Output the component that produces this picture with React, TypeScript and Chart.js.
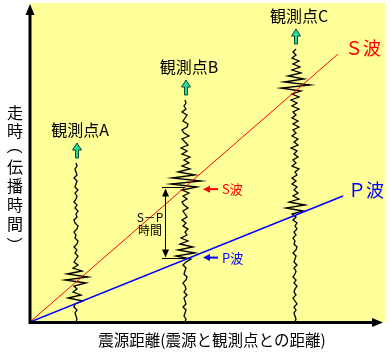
import { useEffect, useRef } from 'react';
import { Chart, registerables } from 'chart.js';

Chart.register(...registerables);

// Station (observation point) names and epicentral distances (data units)
const stationLabels = ['観測点A', '観測点B', '観測点C'];
const stationDist = [46, 155, 265];

// Travel-time lines
const sWaveDist = [0, 308];
const sWaveTime = [0, 268];
const pWaveDist = [0, 313];
const pWaveTime = [0, 126];

// Seismogram amplitudes, sampled every traceStep time units from the origin time upwards
const traceStep = 3;
const traceA = [
  0, 1, 0, -1, 1, -2, -1, 7, -8, 5, -3, 1, -2, 10, -11, 12, -9, 6, -3, 2,
  -2, 0, 2, -1, 1, -2, 1, 2, -1, 0, -2, 1, 2, -1, -2, 1, 0, 2, -1, 1,
  -2, 0, 1, -1, 2, -1, 0, 1, -2, 1, 0, -1, 1, 0,
];
const traceB = [
  0, 1, -1, 0, 1, -2, 1, 0, -1, 2, -1, 1, 0, -2, 1, 2, -1, 0, 1, -2,
  1, 6, -9, 10, -7, 8, -5, 3, -4, 2, 0, 3, -2, 1, -3, 2, 0, -2, 3, -1,
  -3, 2, -2, 4, -3, 12, -14, 16, -13, 10, -7, 5, -3, 4, -1, 5, -3, 2, -4, 3,
  0, -3, 4, -1, -3, 2, 3, -2, 0, 2, -3, 1, -1, 1, 0,
];
const traceC = [
  0, 1, 0, -1, 1, -1, 2, 0, -2, 1, -1, 0, 2, -1, 1, -2, 0, 1, -1, 2,
  -1, 0, 1, -2, 1, 2, -1, 0, -2, 1, -1, 2, 0, 2, -2, 1, -3, 8, -9, 10,
  -6, 4, -2, 3, -1, 2, -3, 1, -3, 2, 0, 4, -3, 1, -2, 3, -1, 2, -4, 3,
  -1, 3, -3, 1, -2, 4, -2, 3, -3, 1, -2, 4, -3, 2, -4, 4, -3, 6, -14, 15,
  -11, 9, -7, 6, -3, 5, -2, 4, -3, 1, -2, 1,
];
const traces = [traceA, traceB, traceC];

// Text
const sLabel = 'Ｓ波';
const pLabel = 'Ｐ波';
const sSmallLabel = 'S波';
const pSmallLabel = 'P波';
const spLabel = ['S－P', '時間'];
const xTitle = '震源距離(震源と観測点との距離)';
const yTitleChars = ['走', '時', '（', '伝', '播', '時', '間', '）'];

const FONT = '"Noto Sans CJK JP", "Noto Sans", sans-serif';
const GREEN = '#22DD99';

const decor = {
  id: 'decor',
  beforeDraw(chart: any) {
    const { ctx, chartArea: a } = chart;
    ctx.save();
    ctx.fillStyle = '#FFFF99';
    ctx.fillRect(a.left, a.top, a.right - a.left, a.bottom - a.top);
    ctx.restore();
  },
  afterDatasetsDraw(chart: any) {
    const { ctx, chartArea: a, scales } = chart;
    const xs = scales.x;
    const ys = scales.y;
    ctx.save();

    // axes
    ctx.strokeStyle = '#000';
    ctx.fillStyle = '#000';
    ctx.lineWidth = 3;
    ctx.beginPath();
    ctx.moveTo(a.left, a.bottom + 2);
    ctx.lineTo(a.left, a.top + 10);
    ctx.moveTo(a.left - 1.5, a.bottom + 0.5);
    ctx.lineTo(a.right - 8, a.bottom + 0.5);
    ctx.stroke();
    ctx.beginPath();
    ctx.moveTo(a.left, a.top + 1);
    ctx.lineTo(a.left - 4.5, a.top + 12);
    ctx.lineTo(a.left + 4.5, a.top + 12);
    ctx.closePath();
    ctx.fill();
    ctx.beginPath();
    ctx.moveTo(a.right - 2, a.bottom + 0.5);
    ctx.lineTo(a.right - 13, a.bottom - 4);
    ctx.lineTo(a.right - 13, a.bottom + 5);
    ctx.closePath();
    ctx.fill();

    // station arrows and labels
    traces.forEach((tr, k) => {
      const x = xs.getPixelForValue(stationDist[k]) + 1;
      const top = ys.getPixelForValue((tr.length - 1) * traceStep);
      const t = top - 20;
      ctx.beginPath();
      ctx.moveTo(x, t);
      ctx.lineTo(x - 4.5, t + 7);
      ctx.lineTo(x - 1.5, t + 7);
      ctx.lineTo(x - 1.5, t + 15);
      ctx.lineTo(x + 1.5, t + 15);
      ctx.lineTo(x + 1.5, t + 7);
      ctx.lineTo(x + 4.5, t + 7);
      ctx.closePath();
      ctx.fillStyle = GREEN;
      ctx.fill();
      ctx.lineWidth = 1;
      ctx.strokeStyle = '#114433';
      ctx.stroke();

      ctx.fillStyle = '#000';
      ctx.font = `16px ${FONT}`;
      ctx.textAlign = 'center';
      ctx.textBaseline = 'middle';
      ctx.fillText(stationLabels[k], x + 3, t - 13);
    });

    // S / P labels at line ends
    const sx = xs.getPixelForValue(sWaveDist[1]);
    const sy = ys.getPixelForValue(sWaveTime[1]);
    const px = xs.getPixelForValue(pWaveDist[1]);
    const py = ys.getPixelForValue(pWaveTime[1]);
    ctx.font = `18px ${FONT}`;
    ctx.textAlign = 'left';
    ctx.textBaseline = 'middle';
    ctx.fillStyle = '#FF0000';
    ctx.fillText(sLabel, sx + 7, sy - 6);
    ctx.fillStyle = '#0000FF';
    ctx.fillText(pLabel, px + 5, py - 6);

    // arrivals at station B
    const bx = xs.getPixelForValue(stationDist[1]);
    const sSlope = sWaveTime[1] / sWaveDist[1];
    const pSlope = pWaveTime[1] / pWaveDist[1];
    const ySB = ys.getPixelForValue(stationDist[1] * sSlope);
    const yPB = ys.getPixelForValue(stationDist[1] * pSlope);

    const smallArrow = (y: number, color: string, label: string) => {
      ctx.fillStyle = color;
      ctx.strokeStyle = color;
      ctx.lineWidth = 2;
      ctx.beginPath();
      ctx.moveTo(bx + 24, y);
      ctx.lineTo(bx + 33, y);
      ctx.stroke();
      ctx.beginPath();
      ctx.moveTo(bx + 18, y);
      ctx.lineTo(bx + 25, y - 3.5);
      ctx.lineTo(bx + 25, y + 3.5);
      ctx.closePath();
      ctx.fill();
      ctx.font = `13px ${FONT}`;
      ctx.textAlign = 'left';
      ctx.fillText(label, bx + 37, y);
    };
    smallArrow(ySB + 2, '#FF0000', sSmallLabel);
    smallArrow(yPB - 2, '#0000FF', pSmallLabel);

    // S-P bracket
    ctx.strokeStyle = '#000';
    ctx.fillStyle = '#000';
    ctx.lineWidth = 1;
    const yTop = Math.round(ySB) + 0.5;
    const yBot = Math.round(yPB) - 1.5;
    ctx.beginPath();
    ctx.moveTo(bx - 23, yTop);
    ctx.lineTo(bx, yTop);
    ctx.moveTo(bx - 23, yBot);
    ctx.lineTo(bx, yBot);
    ctx.moveTo(bx - 19.5, yTop + 6);
    ctx.lineTo(bx - 19.5, yBot - 6);
    ctx.stroke();
    ctx.beginPath();
    ctx.moveTo(bx - 19.5, yTop + 1);
    ctx.lineTo(bx - 23, yTop + 9);
    ctx.lineTo(bx - 16, yTop + 9);
    ctx.closePath();
    ctx.fill();
    ctx.beginPath();
    ctx.moveTo(bx - 19.5, yBot - 1);
    ctx.lineTo(bx - 23, yBot - 9);
    ctx.lineTo(bx - 16, yBot - 9);
    ctx.closePath();
    ctx.fill();
    ctx.font = `12px ${FONT}`;
    ctx.textAlign = 'center';
    ctx.textBaseline = 'middle';
    const midY = (yTop + yBot) / 2;
    ctx.fillText(spLabel[0], bx - 35, midY - 6);
    ctx.fillText(spLabel[1], bx - 35, midY + 7);

    // axis titles
    ctx.fillStyle = '#000';
    ctx.font = `15.5px ${FONT}`;
    ctx.textAlign = 'center';
    ctx.textBaseline = 'middle';
    ctx.fillText(xTitle, 212, 340);

    ctx.font = `16px ${FONT}`;
    const yPos = [113, 131, 146, 167, 186, 205, 224, 245];
    yTitleChars.forEach((c, i) => {
      const isParen = c === '（' || c === '）';
      if (isParen) {
        ctx.save();
        ctx.translate(15, yPos[i]);
        ctx.rotate(Math.PI / 2);
        ctx.fillText(c, 0, 0);
        ctx.restore();
      } else {
        ctx.fillText(c, 15, yPos[i]);
      }
    });

    ctx.restore();
  },
};

export default function App() {
  const ref = useRef<HTMLCanvasElement | null>(null);

  useEffect(() => {
    document.body.style.margin = '0';
    const canvas = ref.current;
    if (!canvas) return;

    const datasets: any[] = [
      {
        label: 'S波',
        data: sWaveDist.map((d, i) => ({ x: d, y: sWaveTime[i] })),
        borderColor: '#FF0000',
        borderWidth: 1,
      },
      {
        label: 'P波',
        data: pWaveDist.map((d, i) => ({ x: d, y: pWaveTime[i] })),
        borderColor: '#0000FF',
        borderWidth: 1.6,
      },
      ...traces.map((tr, k) => ({
        label: stationLabels[k],
        data: tr.map((amp, i) => ({ x: stationDist[k] + amp, y: i * traceStep })),
        borderColor: '#000000',
        borderWidth: 1.3,
      })),
    ].map((d) => ({ ...d, showLine: true, pointRadius: 0, tension: 0, fill: false }));

    const chart = new Chart(canvas, {
      type: 'scatter',
      data: { datasets },
      options: {
        responsive: false,
        animation: false,
        devicePixelRatio: 1,
        layout: { padding: { left: 30, right: 5, top: 3, bottom: 33 } },
        scales: {
          x: { type: 'linear', min: 0, max: 355, display: false },
          y: { type: 'linear', min: 0, max: 319, display: false },
        },
        plugins: { legend: { display: false }, tooltip: { enabled: false } },
      },
      plugins: [decor],
    });
    return () => chart.destroy();
  }, []);

  return (
    <div style={{ width: 390, height: 355 }}>
      <canvas ref={ref} width={390} height={355} />
    </div>
  );
}
